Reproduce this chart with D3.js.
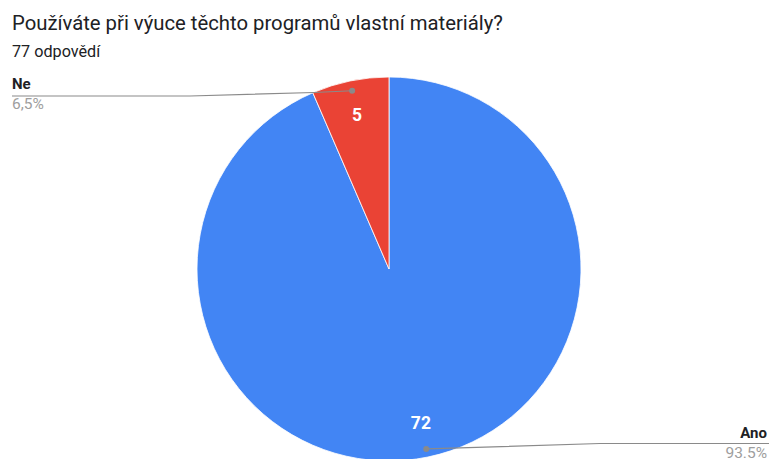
<!DOCTYPE html>
<html>
<head>
<meta charset="utf-8">
<script src="https://cdn.jsdelivr.net/npm/d3@7/dist/d3.min.js"></script>
<style>
  html, body { margin: 0; padding: 0; background: #fff; }
  svg { display: block; font-family: Roboto, "Noto Sans", sans-serif; }
</style>
</head>
<body>
<svg id="chart" width="769" height="459"></svg>
<script>
// Survey answers
const categories = ["Ano", "Ne"];
const counts = [72, 5];
const percentLabels = ["93.5%", "6,5%"];
const colors = ["#4285F4", "#EA4335"];

const title = "Používáte při výuce těchto programů vlastní materiály?";
const subtitle = "77 odpovědí";

const cx = 389, cy = 269, R = 192;

const svg = d3.select("#chart");

svg.append("text").attr("x", 12).attr("y", 30)
  .attr("font-size", 20.3).attr("fill", "#202124").text(title);
svg.append("text").attr("x", 12).attr("y", 57)
  .attr("font-size", 16.2).attr("fill", "#202124").text(subtitle);

const pie = d3.pie().sort(null).value(d => d);
const arcs = pie(counts);
const arc = d3.arc().innerRadius(0).outerRadius(R);

const g = svg.append("g").attr("transform", `translate(${cx},${cy})`);

g.selectAll("path.slice").data(arcs).enter().append("path")
  .attr("class", "slice")
  .attr("d", arc)
  .attr("fill", (d, i) => colors[i])
  .attr("stroke", "#fff").attr("stroke-width", 0.8);

// Value labels inside the slices
arcs.forEach((d, i) => {
  const a = (d.startAngle + d.endAngle) / 2;
  const r = R * 0.82;
  g.append("text")
    .attr("x", Math.sin(a) * r)
    .attr("y", -Math.cos(a) * r)
    .attr("dy", "0.36em")
    .attr("text-anchor", "middle")
    .attr("font-size", 17.5).attr("font-weight", "bold")
    .attr("fill", "#fff")
    .text(counts[i]);
});

// Leader lines with dots placed on the slices
function dotAt(d, r) {
  const a = (d.startAngle + d.endAngle) / 2;
  return [cx + Math.sin(a) * r, cy - Math.cos(a) * r];
}

const line = d3.line();
const anoDot = dotAt(arcs[0], R * 0.957);
const neDot = dotAt(arcs[1], R * 0.948);

const leaders = [
  { pts: [anoDot, [600, 443.5], [769, 443.5]], dot: anoDot },
  { pts: [neDot, [314, 92.5], [190, 96], [12, 96]], dot: neDot }
];

leaders.forEach(l => {
  svg.append("path").attr("d", line(l.pts))
    .attr("fill", "none").attr("stroke", "#8a8a8a").attr("stroke-width", 1.2);
  svg.append("circle").attr("cx", l.dot[0]).attr("cy", l.dot[1]).attr("r", 3)
    .attr("fill", "#8a8a8a");
});

// Category names and percentages
svg.append("text").attr("x", 12).attr("y", 89)
  .attr("font-size", 15).attr("font-weight", "bold").attr("fill", "#202124")
  .text(categories[1]);
svg.append("text").attr("x", 12).attr("y", 109)
  .attr("font-size", 15.5).attr("fill", "#9e9e9e")
  .text(percentLabels[1]);

svg.append("text").attr("x", 767).attr("y", 438).attr("text-anchor", "end")
  .attr("font-size", 15).attr("font-weight", "bold").attr("fill", "#202124")
  .text(categories[0]);
svg.append("text").attr("x", 767).attr("y", 458).attr("text-anchor", "end")
  .attr("font-size", 15.5).attr("fill", "#9e9e9e")
  .text(percentLabels[0]);
</script>
</body>
</html>
